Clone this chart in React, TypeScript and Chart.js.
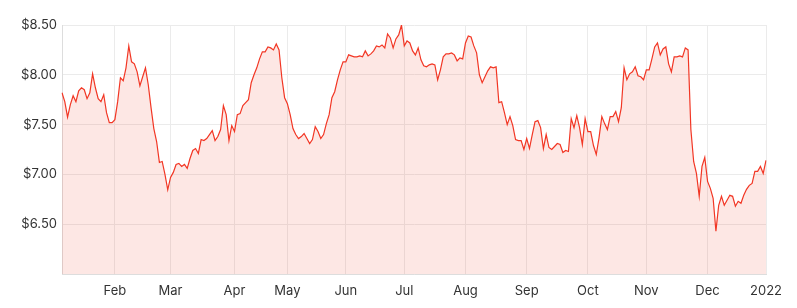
import React, { useEffect, useRef } from "react";
import { Chart, registerables } from "chart.js";

Chart.register(...registerables);

// Trading days per month in 2021 (Jan..Dec), then one point on the first day of 2022
const monthNames = ["Jan", "Feb", "Mar", "Apr", "May", "Jun", "Jul", "Aug", "Sep", "Oct", "Nov", "Dec"];
const tradingDays = [19, 20, 23, 19, 21, 21, 22, 22, 22, 21, 22, 21];
const finalLabel = "2022";
const yTicks = [6.5, 7.0, 7.5, 8.0, 8.5];

const prices = [
  7.82, 7.73, 7.575, 7.70, 7.79, 7.73, 7.84, 7.87, 7.85, 7.76,
  7.82, 8.01, 7.87, 7.76, 7.73, 7.80, 7.62, 7.52, 7.52, 7.55,
  7.73, 7.97, 7.94, 8.07, 8.29, 8.13, 8.11, 8.03, 7.89, 7.98,
  8.07, 7.90, 7.67, 7.46, 7.33, 7.12, 7.13, 7.00, 6.845, 6.97,
  7.02, 7.10, 7.11, 7.08, 7.10, 7.06, 7.16, 7.24, 7.26, 7.21,
  7.35, 7.34, 7.36, 7.40, 7.44, 7.34, 7.38, 7.45, 7.69, 7.60,
  7.34, 7.49, 7.43, 7.60, 7.61, 7.69, 7.72, 7.75, 7.92, 8.00,
  8.07, 8.16, 8.23, 8.23, 8.28, 8.27, 8.25, 8.31, 8.25, 7.97,
  7.77, 7.71, 7.60, 7.46, 7.40, 7.36, 7.38, 7.41, 7.36, 7.31,
  7.35, 7.48, 7.43, 7.36, 7.40, 7.51, 7.60, 7.77, 7.83, 7.95,
  8.05, 8.13, 8.13, 8.20, 8.19, 8.18, 8.18, 8.19, 8.18, 8.24,
  8.19, 8.21, 8.24, 8.29, 8.28, 8.30, 8.27, 8.41, 8.37, 8.27,
  8.36, 8.40, 8.50, 8.29, 8.34, 8.32, 8.24, 8.20, 8.27, 8.15,
  8.09, 8.08, 8.10, 8.11, 8.10, 7.95, 8.05, 8.18, 8.21, 8.21,
  8.22, 8.20, 8.14, 8.17, 8.16, 8.32, 8.39, 8.38, 8.29, 8.22,
  8.00, 7.92, 7.98, 8.04, 8.08, 8.07, 8.08, 7.72, 7.73, 7.62,
  7.50, 7.58, 7.49, 7.35, 7.34, 7.34, 7.25, 7.36, 7.26, 7.40,
  7.53, 7.54, 7.47, 7.26, 7.40, 7.27, 7.25, 7.28, 7.31, 7.30,
  7.22, 7.24, 7.23, 7.56, 7.47, 7.59, 7.47, 7.30, 7.56, 7.43,
  7.43, 7.29, 7.20, 7.37, 7.58, 7.51, 7.45, 7.58, 7.58, 7.63,
  7.53, 7.67, 8.07, 7.95, 8.01, 8.03, 8.08, 7.99, 7.98, 7.95,
  8.05, 8.05, 8.16, 8.28, 8.32, 8.20, 8.26, 8.28, 8.11, 8.03,
  8.18, 8.18, 8.19, 8.18, 8.27, 8.25, 7.45, 7.13, 7.01, 6.78,
  7.08, 7.17, 6.93, 6.86, 6.76, 6.43, 6.69, 6.78, 6.69, 6.74,
  6.79, 6.78, 6.68, 6.73, 6.71, 6.79, 6.85, 6.89, 6.91, 7.03,
  7.03, 7.08, 7.01, 7.14,
];

function buildLabels(): string[] {
  const labels: string[] = [];
  tradingDays.forEach((n, m) => {
    for (let d = 0; d < n; d++) labels.push(d === 0 && m > 0 ? monthNames[m] : "");
  });
  labels.push(finalLabel);
  return labels;
}

export default function App() {
  const ref = useRef<HTMLCanvasElement>(null);

  useEffect(() => {
    document.body.style.margin = "0";
    const labels = buildLabels();
    const font = { family: "Inter, 'Open Sans', sans-serif", size: 13 };
    const chart = new Chart(ref.current!, {
      type: "line",
      data: {
        labels,
        datasets: [
          {
            data: prices,
            borderColor: "rgb(242, 54, 36)",
            backgroundColor: "rgba(242, 54, 36, 0.12)",
            borderWidth: 1.2,
            pointRadius: 0,
            tension: 0,
            fill: "start",
          },
        ],
      },
      options: {
        animation: false,
        responsive: false,
        maintainAspectRatio: false,
        layout: { padding: { top: 25, right: 31, left: 0, bottom: 0 } },
        plugins: { legend: { display: false }, tooltip: { enabled: false } },
        scales: {
          x: {
            type: "category",
            offset: false,
            grid: { color: "#ebebeb", drawTicks: false },
            border: { color: "#dddddd" },
            ticks: {
              autoSkip: false,
              maxRotation: 0,
              minRotation: 0,
              padding: 9,
              color: "#333333",
              font,
              callback: (_v: any, i: number) => (labels[i] ? labels[i] : null),
            },
            afterFit: (s: any) => {
              s.height = 34;
            },
          },
          y: {
            min: 6,
            max: 8.5,
            grid: { color: "#ebebeb", drawTicks: false },
            border: { color: "#dddddd" },
            afterBuildTicks: (s: any) => {
              s.ticks = [6, ...yTicks].map((v) => ({ value: v }));
            },
            ticks: {
              padding: 5,
              color: "#333333",
              font,
              callback: (v: any) => (Number(v) === 6 ? "" : "$" + Number(v).toFixed(2)),
            },
            afterFit: (s: any) => {
              s.width = 62;
            },
          },
        },
      },
    });
    return () => chart.destroy();
  }, []);

  return (
    <div style={{ width: 797, height: 308 }}>
      <canvas ref={ref} width={797} height={308} style={{ display: "block" }} />
    </div>
  );
}
